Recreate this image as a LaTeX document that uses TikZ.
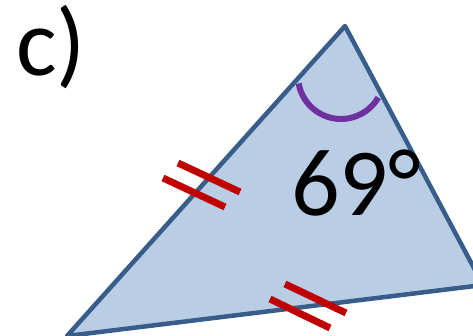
\documentclass[tikz,border=0pt]{standalone}
\usepackage{fontspec}
\setmainfont{Carlito}
\definecolor{triFill}{HTML}{B9CDE5}
\definecolor{triLine}{HTML}{385D8A}
\definecolor{angPurple}{HTML}{7030A0}
\definecolor{tickRed}{HTML}{C00000}
\begin{document}
\begin{tikzpicture}[x=1pt,y=1pt,
  edge/.style={draw=triLine,line width=4.5pt,line join=round,fill=triFill},
  tickmark/.style={draw=tickRed,line width=7pt},
  anglemark/.style={draw=angPurple,line width=6pt},
  bigtext/.style={font=\fontsize{96}{96}\selectfont,inner sep=0pt,anchor=base west}]
\useasboundingbox (0,0) rectangle (473,336);
\clip (0,0) rectangle (473,336);
\coordinate (A) at (345,310);
\coordinate (B) at (67,0);
\coordinate (C) at (483,51);
\draw[edge] (A) -- (B) -- (C) -- cycle;
\draw[anglemark] (341,260) ++(190:43) arc[start angle=190,end angle=330,radius=43];
\coordinate (t1a) at (178,173); \coordinate (t1b) at (240,144);
\coordinate (t2a) at (163,158); \coordinate (t2b) at (225,129);
\draw[tickmark] (t1a) -- (t1b);
\draw[tickmark] (t2a) -- (t2b);
\coordinate (t3a) at (285,52); \coordinate (t3b) at (346,23);
\coordinate (t4a) at (270,37); \coordinate (t4b) at (330,8);
\draw[tickmark] (t3a) -- (t3b);
\draw[tickmark] (t4a) -- (t4b);
\node[bigtext] (ang) at (291,120) {69°};
\node[bigtext] (lbl) at (16,260) {c)};
\end{tikzpicture}
\end{document}
